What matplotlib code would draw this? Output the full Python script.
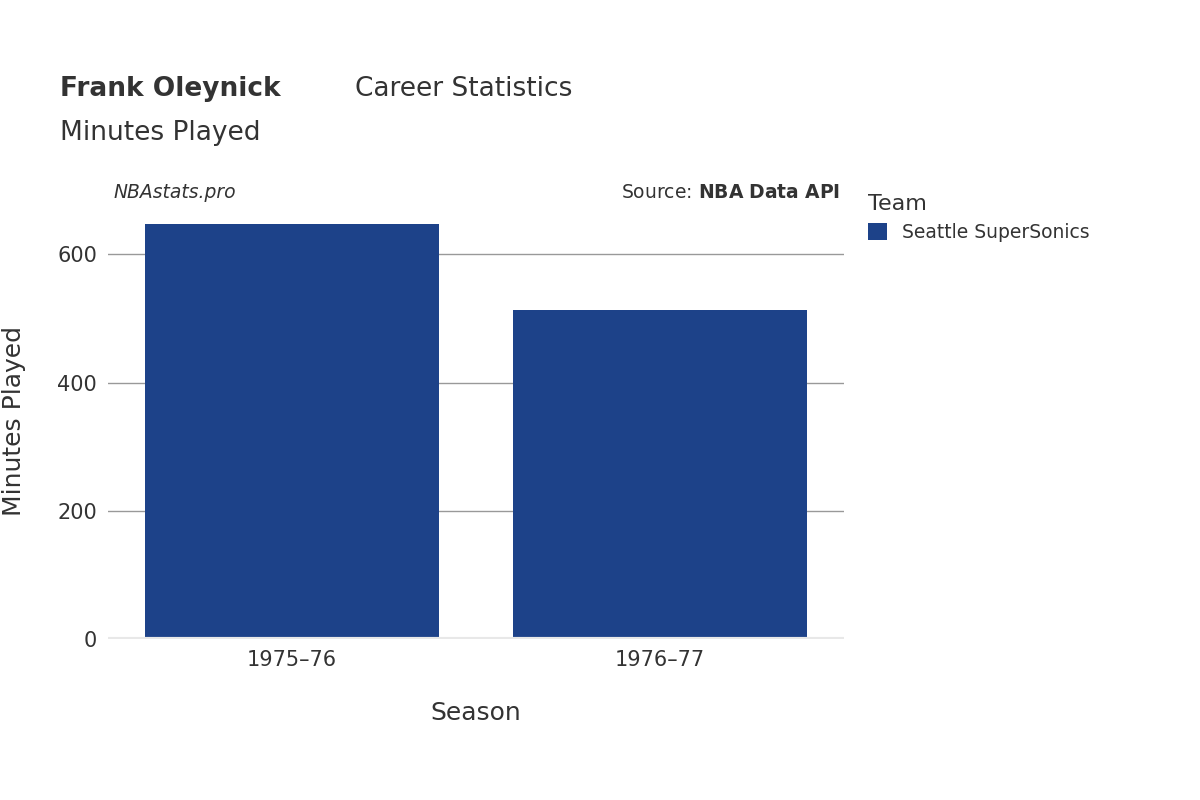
import matplotlib
matplotlib.use("Agg")
import matplotlib.pyplot as plt

seasons = ["1975–76", "1976–77"]
minutes = [648, 513]
team = "Seattle SuperSonics"
color = "#1d4289"

fig = plt.figure(figsize=(12, 8), dpi=100)
ax = fig.add_axes([0.09, 0.201, 0.613, 0.545])
x = range(len(seasons))
ax.bar(x, minutes, width=0.8, color=color, label=team, zorder=3)
ax.set_xlim(-0.5, 1.5)
ax.set_ylim(0, 680)
ax.set_yticks([0, 200, 400, 600])
ax.set_xticks(list(x))
ax.set_xticklabels(seasons)
ax.grid(axis="y", color="#999999", linewidth=1, zorder=0)
for s in ax.spines.values():
    s.set_visible(False)
ax.axhline(0, color="#e8e8e8", linewidth=3, zorder=4)
ax.tick_params(axis="y", length=0, labelsize=15, colors="#333333", pad=8)
ax.tick_params(axis="x", length=0, labelsize=15, colors="#333333", pad=8)
ax.set_xlabel("Season", fontsize=18, color="#333333", labelpad=22)
ax.set_ylabel("Minutes Played", fontsize=18, color="#333333", labelpad=22)

fig.text(0.05, 0.889, "Frank Oleynick", fontsize=19, fontweight="bold", color="#333333", va="center")
fig.text(0.05 + 0.246, 0.889, "Career Statistics", fontsize=19, color="#333333", va="center")
fig.text(0.05, 0.834, "Minutes Played", fontsize=19, color="#333333", va="center")
fig.text(0.095, 0.76, "NBAstats.pro", fontsize=13.5, style="italic", color="#333333", va="center")
fig.text(0.7, 0.76, "Source: $\\bf{NBA\\ Data\\ API}$", fontsize=13.5, color="#333333", va="center", ha="right")

leg = ax.legend(loc="upper left", bbox_to_anchor=(1.01, 1.06), frameon=False,
                title="Team", fontsize=13.5, title_fontsize=16, handlelength=1, handleheight=1)
leg._legend_box.align = "left"
for t in leg.get_texts():
    t.set_color("#333333")
leg.get_title().set_color("#333333")

fig.savefig("out.png")
